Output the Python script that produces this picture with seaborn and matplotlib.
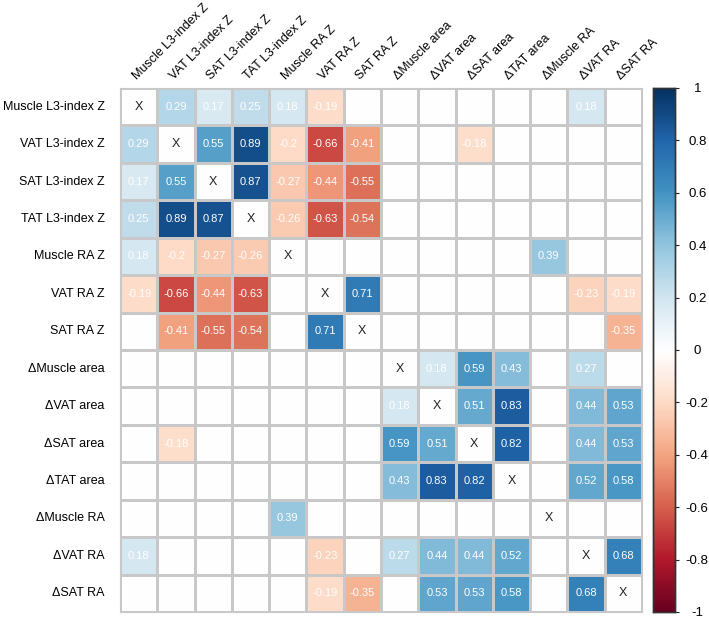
import numpy as np
import pandas as pd
import matplotlib
matplotlib.use("Agg")
import matplotlib.pyplot as plt
from matplotlib.colors import LinearSegmentedColormap
import seaborn as sns

labels = ["Muscle L3-index Z", "VAT L3-index Z", "SAT L3-index Z", "TAT L3-index Z",
          "Muscle RA Z", "VAT RA Z", "SAT RA Z",
          "\u0394Muscle area", "\u0394VAT area", "\u0394SAT area", "\u0394TAT area",
          "\u0394Muscle RA", "\u0394VAT RA", "\u0394SAT RA"]

# significant correlations only, upper triangle: row index, column index, r
pair_row = [0, 0, 0, 0, 0, 0,
            1, 1, 1, 1, 1, 1,
            2, 2, 2, 2,
            3, 3, 3,
            4,
            5, 5, 5,
            6,
            7, 7, 7, 7,
            8, 8, 8, 8,
            9, 9, 9,
            10, 10,
            12]
pair_col = [1, 2, 3, 4, 5, 12,
            2, 3, 4, 5, 6, 9,
            3, 4, 5, 6,
            4, 5, 6,
            11,
            6, 12, 13,
            13,
            8, 9, 10, 12,
            9, 10, 12, 13,
            10, 12, 13,
            12, 13,
            13]
pair_r = [0.29, 0.17, 0.25, 0.18, -0.19, 0.18,
          0.55, 0.89, -0.20, -0.66, -0.41, -0.18,
          0.87, -0.27, -0.44, -0.55,
          -0.26, -0.63, -0.54,
          0.39,
          0.71, -0.23, -0.19,
          -0.35,
          0.18, 0.59, 0.43, 0.27,
          0.51, 0.83, 0.44, 0.53,
          0.82, 0.44, 0.53,
          0.52, 0.58,
          0.68]

n = len(labels)
corr = np.full((n, n), np.nan)
for i, j, r in zip(pair_row, pair_col, pair_r):
    corr[i, j] = r
    corr[j, i] = r
df = pd.DataFrame(corr, index=labels, columns=labels)

cmap = LinearSegmentedColormap.from_list(
    "corr", ["#67001F", "#B2182B", "#D6604D", "#F4A582", "#FDDBC7", "#FFFFFF",
             "#D1E5F0", "#92C5DE", "#4393C3", "#2166AC", "#053061"])

plt.rcParams["font.family"] = ["Liberation Sans", "DejaVu Sans"]
fig = plt.figure(figsize=(7.09, 6.19), dpi=100)
ax = fig.add_axes([120 / 709, 7 / 619, 522 / 709, 524 / 619])
cax = fig.add_axes([653 / 709, 7 / 619, 22 / 709, 524 / 619])

sns.heatmap(df.fillna(0), ax=ax, cbar_ax=cax, cmap=cmap, vmin=-1, vmax=1,
            linewidths=0.9, linecolor="#c8c8c8", square=False)

for i in range(n):
    for j in range(n):
        if i == j:
            ax.text(j + 0.5, i + 0.5, "X", ha="center", va="center",
                    fontsize=9, color="#222222")
        elif not np.isnan(corr[i, j]):
            ax.text(j + 0.5, i + 0.5, f"{corr[i, j]:g}", ha="center", va="center",
                    fontsize=8, color="white")

for side in ["top", "bottom", "left", "right"]:
    ax.spines[side].set_visible(True)
    ax.spines[side].set_color("#c8c8c8")

ax.xaxis.tick_top()
ax.set_xticks(np.arange(n) + 0.5)
ax.set_xticklabels(labels, rotation=45, ha="left", va="bottom",
                   rotation_mode="anchor", fontsize=9)
ax.set_yticks(np.arange(n) + 0.5)
ax.set_yticklabels(labels, rotation=0, fontsize=9)
ax.tick_params(axis="x", length=0, pad=4)
ax.tick_params(axis="y", length=0, pad=11)

ticks = np.round(np.linspace(-1, 1, 11), 1)
cax.set_yticks(ticks)
cax.set_yticklabels([f"{t:g}" if t != 0 else "0" for t in ticks], ha="center", fontsize=9.5)
cax.tick_params(axis="y", length=3, width=0.8, pad=13, color="#222222")
for sp in cax.spines.values():
    sp.set_visible(True)
    sp.set_color("#333333")
    sp.set_linewidth(1)

fig.savefig("out.png", dpi=100)
